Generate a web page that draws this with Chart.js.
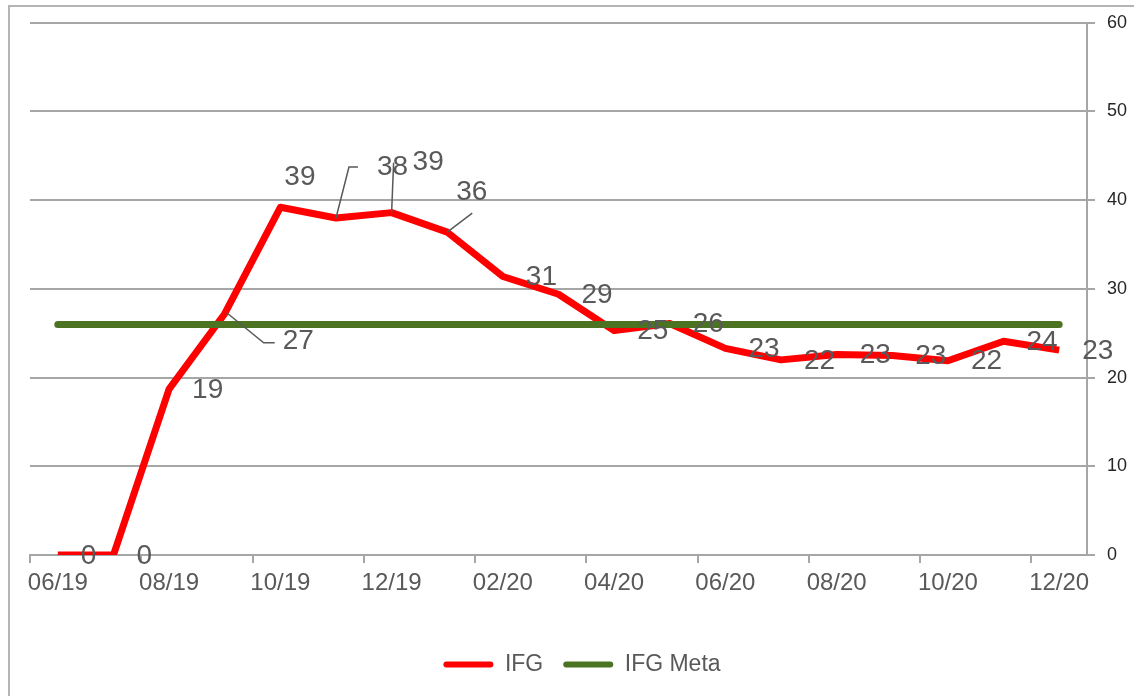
<!DOCTYPE html>
<html>
<head>
<meta charset="utf-8">
<script src="https://cdn.jsdelivr.net/npm/chart.js@4/dist/chart.umd.min.js"></script>
<style>
  html, body { margin: 0; padding: 0; background: #fff; overflow: hidden; }
  #moldura { position: absolute; left: 8px; top: 5px; width: 2000px; height: 2000px;
             border-left: 2px solid #b4b4b4; border-top: 2px solid #b4b4b4; }
  #grafico { position: absolute; left: 0; top: 0; }
</style>
</head>
<body>
<div id="moldura"></div>
<canvas id="grafico" width="1134" height="696"></canvas>
<script>
// meses (um ponto por mes)
var meses = ['06/19', '07/19', '08/19', '09/19', '10/19', '11/19', '12/19', '01/20', '02/20', '03/20',
             '04/20', '05/20', '06/20', '07/20', '08/20', '09/20', '10/20', '11/20', '12/20'];
// valores
var ifg = [0, 0, 18.7, 27.2, 39.2, 38.0, 38.6, 36.4, 31.4, 29.4,
           25.3, 26.1, 23.3, 22.0, 22.6, 22.5, 21.9, 24.1, 23.1];
var ifgMeta = [26, 26, 26, 26, 26, 26, 26, 26, 26, 26,
               26, 26, 26, 26, 26, 26, 26, 26, 26];
var yTicks = [0, 10, 20, 30, 40, 50, 60];

// rotulos deslocados (com linha de chamada) - offset em px a partir do ponto
var rotulosEspeciais = {
  3: { dx: 58, dy: 28, linha: [[2, -1], [39, 29], [50, 29]] },
  4: { dx: 4, dy: -30 },
  5: { dx: 41, dy: -51, linha: [[0, 0], [13, -51], [22, -51]] },
  6: { dx: 21, dy: -50, linha: [[0, 0], [2, -50]] },
  7: { dx: 9, dy: -40, linha: [[0, 0], [25, -19]] }
};

var cinzaTexto = '#595959';
var cinzaGrade = '#a6a6a6';

var rotulosPlugin = {
  id: 'rotulosIFG',
  afterDatasetsDraw: function (chart) {
    var meta = chart.getDatasetMeta(0);
    var ctx = chart.ctx;
    ctx.save();
    ctx.font = '28px "Liberation Sans", Arial, sans-serif';
    ctx.fillStyle = cinzaTexto;
    ctx.strokeStyle = cinzaTexto;
    ctx.lineWidth = 1.5;
    ctx.textAlign = 'left';
    ctx.textBaseline = 'middle';
    meta.data.forEach(function (pt, i) {
      var txt = String(Math.round(ifg[i]));
      var esp = rotulosEspeciais[i];
      if (esp) {
        if (esp.linha) {
          ctx.beginPath();
          esp.linha.forEach(function (p, k) {
            if (k === 0) ctx.moveTo(pt.x + p[0], pt.y + p[1]);
            else ctx.lineTo(pt.x + p[0], pt.y + p[1]);
          });
          ctx.stroke();
        }
        ctx.fillText(txt, pt.x + esp.dx, pt.y + esp.dy);
      } else {
        ctx.fillText(txt, pt.x + 23, pt.y + 1);
      }
    });
    ctx.restore();
  }
};

var ctx = document.getElementById('grafico').getContext('2d');
var grafico = new Chart(ctx, {
  type: 'line',
  data: {
    labels: meses,
    datasets: [
      {
        label: 'IFG',
        data: ifg,
        borderColor: '#ff0000',
        backgroundColor: '#ff0000',
        borderWidth: 7,
        borderJoinStyle: 'round',
        pointRadius: 0,
        tension: 0,
        order: 1
      },
      {
        label: 'IFG Meta',
        data: ifgMeta,
        borderColor: '#4b7321',
        backgroundColor: '#4b7321',
        borderWidth: 7,
        borderCapStyle: 'round',
        pointRadius: 0,
        tension: 0,
        order: 0
      }
    ]
  },
  options: {
    responsive: false,
    animation: false,
    devicePixelRatio: 1,
    layout: { padding: { left: 30, right: 0, top: 17, bottom: 10 } },
    plugins: {
      tooltip: { enabled: false },
      legend: {
        position: 'bottom',
        labels: {
          boxWidth: 50,
          boxHeight: 6,
          padding: 20,
          color: cinzaTexto,
          font: { size: 23, family: '"Liberation Sans", Arial, sans-serif' },
          useBorderRadius: true,
          borderRadius: 3,
          sort: function (a, b) { return a.datasetIndex - b.datasetIndex; },
          generateLabels: function (chart) {
            var itens = Chart.defaults.plugins.legend.labels.generateLabels(chart);
            itens.forEach(function (it) { it.lineWidth = 0; it.fillStyle = it.strokeStyle; });
            return itens;
          }
        }
      }
    },
    scales: {
      x: {
        offset: true,
        grid: {
          offset: true,
          drawOnChartArea: false,
          drawTicks: true,
          tickLength: 8,
          lineWidth: 2,
          color: function (c) { return (c.index !== undefined && c.index % 2 === 0) ? cinzaGrade : 'rgba(0,0,0,0)'; }
        },
        border: { display: true, color: cinzaGrade, width: 2 },
        ticks: {
          autoSkip: false,
          maxRotation: 0,
          padding: 6,
          color: cinzaTexto,
          font: { size: 24, family: '"Liberation Sans", Arial, sans-serif' },
          callback: function (v, i) { return i % 2 === 0 ? meses[i] : ''; }
        },
        afterFit: function (scale) { scale.height = 78; }
      },
      y: {
        position: 'right',
        min: 0,
        max: 60,
        afterBuildTicks: function (scale) { scale.ticks = yTicks.map(function (v) { return { value: v }; }); },
        grid: { color: cinzaGrade, lineWidth: 2, tickLength: 8 },
        border: { display: true, color: cinzaGrade, width: 2 },
        ticks: {
          padding: 12,
          color: '#262626',
          font: { size: 18, family: '"Liberation Sans", Arial, sans-serif' }
        },
        afterFit: function (scale) { scale.width = 47; }
      }
    }
  },
  plugins: [rotulosPlugin]
});
</script>
</body>
</html>
